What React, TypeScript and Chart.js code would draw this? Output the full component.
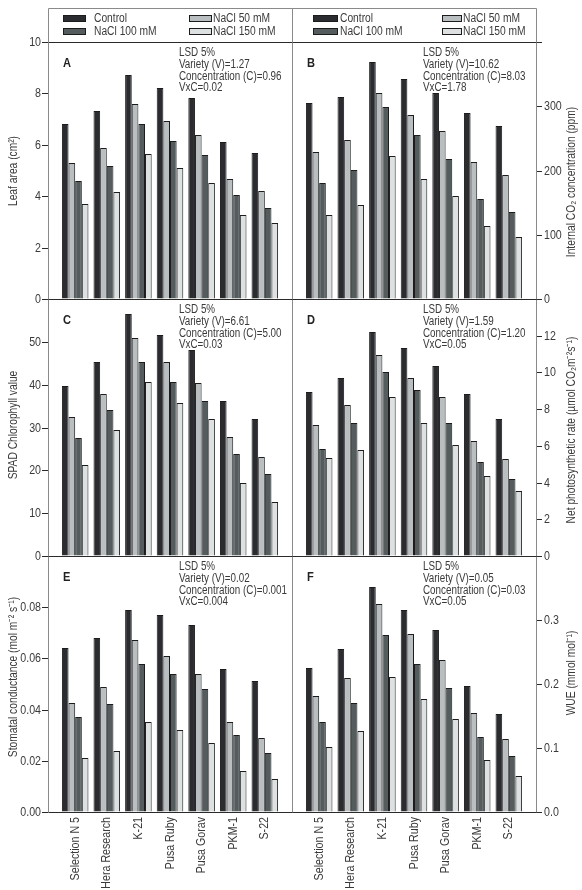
import { useEffect, useRef } from "react";
import { Chart, registerables } from "chart.js";

Chart.register(...registerables);

// Tomato varieties (x axis) and salinity treatments (bar series)
const varieties = ["Selection N 5", "Hera Research", "K-21", "Pusa Ruby", "Pusa Gorav", "PKM-1", "S-22"];
const treatments = ["Control", "NaCl 50 mM", "NaCl 100 mM", "NaCl 150 mM"];

// A: leaf area (cm²)
const leafAreaControl = [6.81, 7.31, 8.7, 8.21, 7.81, 6.1, 5.7];
const leafArea50 = [5.29, 5.87, 7.58, 6.94, 6.38, 4.68, 4.21];
const leafArea100 = [4.6, 5.19, 6.82, 6.16, 5.61, 4.03, 3.53];
const leafArea150 = [3.69, 4.16, 5.64, 5.09, 4.52, 3.27, 2.95];

// B: internal CO2 concentration (ppm)
const ciControl = [305, 314, 369, 342, 320, 289, 270];
const ci50 = [229, 247, 321, 287, 262, 213, 193];
const ci100 = [181, 201, 299, 255, 218, 156, 136];
const ci150 = [130, 146, 223, 187, 160, 114, 97];

// C: SPAD chlorophyll value
const spadControl = [39.7, 45.2, 56.4, 51.7, 48.0, 36.1, 31.9];
const spad50 = [32.5, 37.9, 51.0, 45.2, 40.4, 27.7, 23.0];
const spad100 = [27.5, 34.0, 45.2, 40.7, 36.1, 23.7, 19.2];
const spad150 = [21.3, 29.5, 40.6, 35.8, 32.0, 17.0, 12.5];

// D: net photosynthetic rate (µmol CO2 m-2 s-1)
const pnControl = [8.96, 9.68, 12.2, 11.33, 10.33, 8.8, 7.47];
const pn50 = [7.15, 8.22, 10.97, 9.67, 8.65, 6.28, 5.27];
const pn100 = [5.83, 7.26, 10.03, 9.03, 7.26, 5.14, 4.18];
const pn150 = [5.34, 5.79, 8.67, 7.22, 6.03, 4.34, 3.55];

// E: stomatal conductance (mol m-2 s-1)
const gsControl = [0.064, 0.068, 0.079, 0.077, 0.073, 0.056, 0.051];
const gs50 = [0.0425, 0.049, 0.067, 0.061, 0.054, 0.035, 0.029];
const gs100 = [0.037, 0.042, 0.058, 0.054, 0.048, 0.03, 0.023];
const gs150 = [0.021, 0.024, 0.035, 0.032, 0.027, 0.016, 0.013];

// F: water use efficiency (mmol mol-1)
const wueControl = [0.225, 0.254, 0.351, 0.316, 0.285, 0.197, 0.153];
const wue50 = [0.181, 0.21, 0.325, 0.278, 0.238, 0.154, 0.114];
const wue100 = [0.141, 0.17, 0.276, 0.232, 0.194, 0.117, 0.087];
const wue150 = [0.101, 0.127, 0.211, 0.177, 0.146, 0.081, 0.057];

// LSD (5%) notes per panel
const lsdA = ["LSD 5%", "Variety (V)=1.27", "Concentration (C)=0.96", "VxC=0.02"];
const lsdB = ["LSD 5%", "Variety (V)=10.62", "Concentration (C)=8.03", "VxC=1.78"];
const lsdC = ["LSD 5%", "Variety (V)=6.61", "Concentration (C)=5.00", "VxC=0.03"];
const lsdD = ["LSD 5%", "Variety (V)=1.59", "Concentration (C)=1.20", "VxC=0.05"];
const lsdE = ["LSD 5%", "Variety (V)=0.02", "Concentration (C)=0.001", "VxC=0.004"];
const lsdF = ["LSD 5%", "Variety (V)=0.05", "Concentration (C)=0.03", "VxC=0.05"];

// Styling and layout
const FONT = "'Liberation Sans', Arimo, Arial, sans-serif";
const NARROW = 0.82; // horizontal squeeze giving a narrow sans look
const TEXT = "#3a3a3a";
const FRAME = "#8a8a8a";
const AXIS = "#2a2a2a";
const BAR_BORDER = "#1c1c1c";
const COLORS = ["#2b2c30", "#b9bec0", "#545c5e", "#dee1e2"];

const W = 582;
const H = 890;
const COL_X = [48, 292, 536];
const ROW_Y = [42, 299, 556, 812];
const FRAME_TOP = 8;
const X_MIN = -0.86;
const X_MAX = 6.86;

type PanelSpec = {
  letter: string;
  side: 0 | 1;
  row: 0 | 1 | 2;
  series: number[][];
  max: number;
  step: number;
  decimals: number;
  showTop: boolean;
  title: string;
  titleY: number;
  lsd: string[];
};

const panels: PanelSpec[] = [
  { letter: "A", side: 0, row: 0, series: [leafAreaControl, leafArea50, leafArea100, leafArea150], max: 10, step: 2, decimals: 0, showTop: true, title: "Leaf area (cm²)", titleY: 171, lsd: lsdA },
  { letter: "B", side: 1, row: 0, series: [ciControl, ci50, ci100, ci150], max: 400, step: 100, decimals: 0, showTop: false, title: "Internal CO₂ concentration (ppm)", titleY: 182, lsd: lsdB },
  { letter: "C", side: 0, row: 1, series: [spadControl, spad50, spad100, spad150], max: 60, step: 10, decimals: 0, showTop: false, title: "SPAD Chlorophyll value", titleY: 425, lsd: lsdC },
  { letter: "D", side: 1, row: 1, series: [pnControl, pn50, pn100, pn150], max: 14, step: 2, decimals: 0, showTop: false, title: "Net photosynthetic rate (µmol CO₂m⁻²s⁻¹)", titleY: 430, lsd: lsdD },
  { letter: "E", side: 0, row: 2, series: [gsControl, gs50, gs100, gs150], max: 0.1, step: 0.02, decimals: 2, showTop: false, title: "Stomatal conductance (mol m⁻² s⁻¹)", titleY: 677, lsd: lsdE },
  { letter: "F", side: 1, row: 2, series: [wueControl, wue50, wue100, wue150], max: 0.4, step: 0.1, decimals: 1, showTop: false, title: "WUE (mmol mol⁻¹)", titleY: 673, lsd: lsdF },
];

type TextOpts = {
  size: number;
  align?: CanvasTextAlign;
  baseline?: CanvasTextBaseline;
  bold?: boolean;
  rotate?: boolean;
  color?: string;
};

function narrowText(ctx: CanvasRenderingContext2D, text: string, x: number, y: number, o: TextOpts) {
  ctx.save();
  ctx.translate(x, y);
  if (o.rotate) ctx.rotate(-Math.PI / 2);
  ctx.scale(NARROW, 1);
  ctx.font = `${o.bold ? "bold " : ""}${o.size}px ${FONT}`;
  ctx.fillStyle = o.color ?? TEXT;
  ctx.textAlign = o.align ?? "left";
  ctx.textBaseline = o.baseline ?? "alphabetic";
  ctx.fillText(text, 0, 0);
  ctx.restore();
}

function decorPlugin(p: PanelSpec) {
  return {
    id: "panelDecor",
    afterDraw(chart: any) {
      const { ctx, chartArea: a } = chart;
      const l = Math.round(a.left) + 0.5;
      const r = Math.round(a.right) + 0.5;
      const t = Math.round(a.top) + 0.5;
      const b = Math.round(a.bottom) + 0.5;
      const seg = (x1: number, y1: number, x2: number, y2: number, c: string) => {
        ctx.strokeStyle = c;
        ctx.beginPath();
        ctx.moveTo(x1, y1);
        ctx.lineTo(x2, y2);
        ctx.stroke();
      };
      ctx.save();
      ctx.lineWidth = 1;
      seg(l, t, l, b, FRAME);
      seg(r, t, r, b, FRAME);
      seg(l, t, r, t, AXIS);
      seg(l, b, r, b, AXIS);

      if (p.row === 0) {
        // legend strip above the top panels
        const lt = FRAME_TOP + 0.5;
        seg(l, lt, r, lt, FRAME);
        seg(l, lt, l, t, FRAME);
        seg(r, lt, r, t, FRAME);
        const slots = p.side === 0 ? [[15, 23, 46], [141, 23, 165]] : [[21, 25, 48], [150, 20, 171]];
        chart.data.datasets.forEach((ds: any, k: number) => {
          const [sx, sw, tx] = slots[k % 2];
          const sy = FRAME_TOP + 7 + Math.floor(k / 2) * 13;
          ctx.fillStyle = ds.backgroundColor;
          ctx.fillRect(a.left + sx, sy, sw, 7);
          ctx.strokeStyle = BAR_BORDER;
          ctx.strokeRect(a.left + sx + 0.5, sy + 0.5, sw - 1, 6);
          narrowText(ctx, ds.label, a.left + tx, sy + 3.5, { size: 12.5, baseline: "middle" });
        });
      }

      // y tick labels, placed from the value scale
      const ys = chart.scales.y;
      ys.ticks.forEach((tk: any) => {
        const v = tk.value;
        if (!p.showTop && Math.abs(v - p.max) < 1e-9) return;
        const py = ys.getPixelForValue(v);
        const label = Number(v).toFixed(p.decimals);
        if (p.side === 0) narrowText(ctx, label, a.left - 7, py, { size: 13, align: "right", baseline: "middle" });
        else narrowText(ctx, label, a.right + 8, py, { size: 13, align: "left", baseline: "middle" });
      });

      // variety names under the bottom panels
      if (p.row === 2) {
        const xs = chart.scales.x;
        varieties.forEach((name, i) => {
          narrowText(ctx, name, xs.getPixelForValue(i), a.bottom + 5, {
            size: 13,
            align: "right",
            baseline: "middle",
            rotate: true,
          });
        });
      }

      narrowText(ctx, p.letter, a.left + 15, a.top + 21, { size: 13.5, bold: true, baseline: "middle", color: "#222" });

      p.lsd.forEach((s, i) => narrowText(ctx, s, a.left + 131, a.top + 5 + i * 11.7, { size: 12, baseline: "top" }));

      narrowText(ctx, p.title, p.side === 0 ? 14 : 572, p.titleY, {
        size: 12.5,
        align: "center",
        baseline: "middle",
        rotate: true,
      });
      ctx.restore();
    },
  };
}

function buildConfig(p: PanelSpec): any {
  const left = COL_X[p.side];
  const right = COL_X[p.side + 1];
  const top = ROW_Y[p.row];
  const bottom = ROW_Y[p.row + 1];
  const yRight = p.side === 1;
  const yWidth = yRight ? W - right : left;

  return {
    type: "bar",
    data: {
      datasets: p.series.map((vals, k) => ({
        label: treatments[k],
        data: vals.map((v, i) => ({ x: i, y: v })),
        backgroundColor: COLORS[k],
        borderColor: BAR_BORDER,
        borderWidth: 1,
        categoryPercentage: 0.84,
        barPercentage: 1,
      })),
    },
    options: {
      responsive: false,
      animation: false,
      devicePixelRatio: 1,
      layout: {
        padding: {
          left: yRight ? left : 0,
          right: yRight ? 0 : W - right,
          top,
          bottom: H - bottom,
        },
      },
      plugins: {
        legend: { display: false },
        tooltip: { enabled: false },
        title: { display: false },
      },
      scales: {
        x: {
          type: "linear",
          min: X_MIN,
          max: X_MAX,
          offset: false,
          bounds: "data",
          display: false,
          afterBuildTicks: (s: any) => {
            s.ticks = varieties.map((_, i) => ({ value: i }));
          },
        },
        y: {
          position: yRight ? "right" : "left",
          min: 0,
          max: p.max,
          alignToPixels: true,
          ticks: { stepSize: p.step, display: false },
          grid: { drawOnChartArea: false, drawTicks: true, tickLength: 6, color: AXIS, lineWidth: 1 },
          border: { display: false },
          afterFit: (s: any) => {
            s.width = yWidth;
          },
        },
      },
    },
    plugins: [decorPlugin(p)],
  };
}

function PanelChart({ spec }: { spec: PanelSpec }) {
  const ref = useRef<HTMLCanvasElement>(null);
  useEffect(() => {
    const chart = new Chart(ref.current as HTMLCanvasElement, buildConfig(spec));
    return () => chart.destroy();
  }, [spec]);
  return (
    <canvas
      ref={ref}
      width={W}
      height={H}
      style={{ position: "absolute", left: 0, top: 0, width: W, height: H }}
    />
  );
}

export default function App() {
  return (
    <div style={{ position: "absolute", left: 0, top: 0, width: W, height: H, background: "#fff" }}>
      {panels.map((p) => (
        <PanelChart key={p.letter} spec={p} />
      ))}
    </div>
  );
}
